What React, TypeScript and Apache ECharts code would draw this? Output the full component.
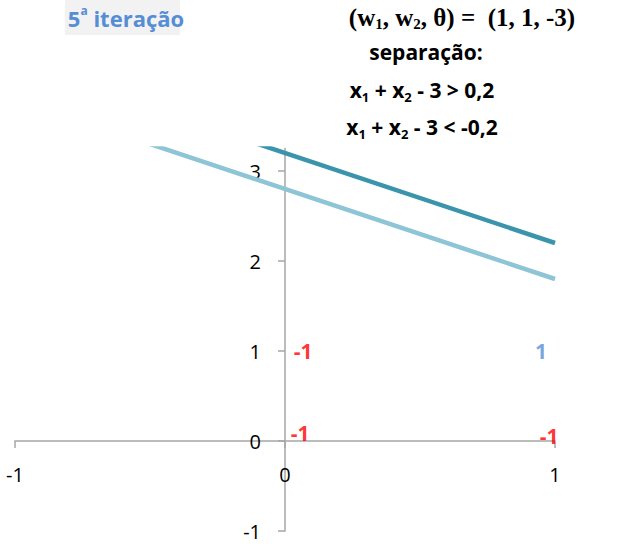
import React, { useEffect, useRef } from "react";
import * as echarts from "echarts";

const xTicks = [-1, 0, 1];
const yTicks = [-1, 0, 1, 2, 3];
const lineX = [-1, 1];
const upperLineY = [4.2, 2.2];
const lowerLineY = [3.8, 1.8];
const pointX = [0, 0, 1, 1];
const pointY = [1, 0, 0, 1];
const pointClass = ["-1", "-1", "-1", "1"];
const labelOffsets: [number, number][] = [[18, 0], [15, -8], [-6, -5], [-14, 0]];
const labelColors = ["#ff0000", "#ff0000", "#ff0000", "#558ed5"];

const X_MIN = -1, X_MAX = 1, Y_MIN = -1, Y_MAX = 3.25;
const GRID = { left: 15, right: 82, top: 148.5, bottom: 23 };
const W = 637, H = 554;

export default function App() {
  const ref = useRef<HTMLDivElement>(null);
  useEffect(() => {
    document.body.style.margin = "0";
    const chart = echarts.init(ref.current!, null, { renderer: "svg" });
    const gw = W - GRID.left - GRID.right;
    const gh = H - GRID.top - GRID.bottom;
    const yOffset = -((0 - X_MIN) / (X_MAX - X_MIN)) * gw;
    const xOffset = -((0 - Y_MIN) / (Y_MAX - Y_MIN)) * gh;
    const axisFont = { fontFamily: "Open Sans", fontSize: 20, color: "#000" };
    const axisLineStyle = { color: "#a6a6a6", width: 1.5 };
    chart.setOption({
      animation: false,
      grid: { ...GRID, containLabel: false, outerBoundsMode: "none" },
      xAxis: {
        type: "value",
        min: X_MIN,
        max: X_MAX,
        interval: 1,
        position: "bottom",
        offset: xOffset,
        axisLine: { show: true, onZero: false, lineStyle: axisLineStyle },
        axisTick: { show: true, length: 7, lineStyle: axisLineStyle, customValues: xTicks },
        axisLabel: { ...axisFont, margin: 23, customValues: xTicks },
        splitLine: { show: false },
      },
      yAxis: {
        type: "value",
        min: Y_MIN,
        max: Y_MAX,
        position: "left",
        offset: yOffset,
        axisLine: { show: true, onZero: false, lineStyle: axisLineStyle },
        axisTick: { show: true, length: 7, lineStyle: axisLineStyle, customValues: yTicks },
        axisLabel: { ...axisFont, margin: 24, customValues: yTicks },
        splitLine: { show: false },
      },
      series: [
        {
          type: "line",
          data: lineX.map((x, i) => [x, lowerLineY[i]]),
          symbol: "none",
          lineStyle: { color: "#8ec5d6", width: 4.5 },
          clip: true,
        },
        {
          type: "line",
          data: lineX.map((x, i) => [x, upperLineY[i]]),
          symbol: "none",
          lineStyle: { color: "#3a94ab", width: 4.5 },
          clip: true,
        },
        {
          type: "scatter",
          symbolSize: 1,
          itemStyle: { color: "rgba(0,0,0,0)" },
          data: pointX.map((x, i) => ({
            value: [x, pointY[i]],
            label: {
              show: true,
              position: "inside",
              offset: labelOffsets[i],
              formatter: pointClass[i],
              color: labelColors[i],
              fontFamily: "Open Sans",
              fontWeight: "bold",
              fontSize: 21,
            },
          })),
        },
      ],
      graphic: [
        { type: "rect", shape: { x: 65, y: 0, width: 115, height: 35 }, style: { fill: "#f2f2f2" } },
        {
          type: "text",
          x: 126,
          y: 18,
          style: {
            text: "5{sup|a} iteração",
            align: "center",
            verticalAlign: "middle",
            fill: "#558ed5",
            fontFamily: "Open Sans",
            fontWeight: "bold",
            fontSize: 22,
            lineHeight: 28,
            rich: {
              sup: { fontSize: 12, fontWeight: "bold", fill: "#558ed5", fontFamily: "Open Sans", verticalAlign: "top", lineHeight: 12 },
            },
          },
        },
        {
          type: "text",
          x: 462,
          y: 17,
          style: {
            text: "(w{sub|1}, w{sub|2}, θ) =  (1, 1, -3)",
            align: "center",
            verticalAlign: "middle",
            fill: "#000",
            fontFamily: "Liberation Serif",
            fontWeight: "bold",
            fontSize: 25,
            lineHeight: 28,
            rich: {
              sub: { fontSize: 15, fontFamily: "Liberation Serif", fontWeight: "bold", fill: "#000", verticalAlign: "bottom", lineHeight: 15 },
            },
          },
        },
        {
          type: "text",
          x: 426,
          y: 52,
          style: {
            text: "separação:",
            align: "center",
            verticalAlign: "middle",
            fill: "#000",
            fontFamily: "Open Sans",
            fontWeight: "bold",
            fontSize: 21,
          },
        },
        {
          type: "text",
          x: 422,
          y: 90,
          style: {
            text: "x{sub|1} + x{sub|2} - 3 > 0,2",
            align: "center",
            verticalAlign: "middle",
            fill: "#000",
            fontFamily: "Open Sans",
            fontWeight: "bold",
            fontSize: 21,
            lineHeight: 26,
            rich: {
              sub: { fontSize: 13, fontFamily: "Open Sans", fontWeight: "bold", fill: "#000", verticalAlign: "bottom", lineHeight: 13 },
            },
          },
        },
        {
          type: "text",
          x: 422,
          y: 127,
          style: {
            text: "x{sub|1} + x{sub|2} - 3 < -0,2",
            align: "center",
            verticalAlign: "middle",
            fill: "#000",
            fontFamily: "Open Sans",
            fontWeight: "bold",
            fontSize: 21,
            lineHeight: 26,
            rich: {
              sub: { fontSize: 13, fontFamily: "Open Sans", fontWeight: "bold", fill: "#000", verticalAlign: "bottom", lineHeight: 13 },
            },
          },
        },
      ],
    });
    return () => chart.dispose();
  }, []);
  return <div ref={ref} style={{ width: W, height: H }} />;
}
